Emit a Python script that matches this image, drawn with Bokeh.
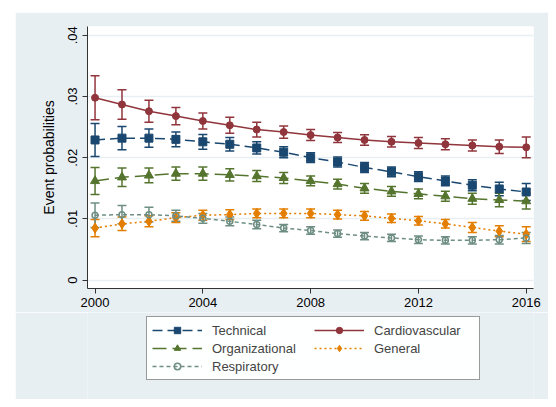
from bokeh.plotting import figure
from bokeh.models import (ColumnDataSource, Whisker, TeeHead, FixedTicker, Legend,
                          LegendItem, Spacer)
from bokeh.layouts import column, row
from bokeh.embed import file_html
from bokeh.resources import INLINE

years = list(range(2000, 2017))

technical = [0.0229, 0.0232, 0.0232, 0.0230, 0.0226, 0.0222, 0.0216, 0.0209, 0.0200,
             0.0193, 0.0184, 0.0177, 0.0169, 0.0162, 0.0155, 0.0149, 0.0144]
technical_ci = [0.0027, 0.0019, 0.0015, 0.0012, 0.0012, 0.0011, 0.0010, 0.0009, 0.0008,
                0.0008, 0.0008, 0.0008, 0.0008, 0.0008, 0.0009, 0.0011, 0.0014]

cardio = [0.0298, 0.0287, 0.0276, 0.0268, 0.0260, 0.0253, 0.0246, 0.0242, 0.0237,
          0.0233, 0.0229, 0.0226, 0.0224, 0.0222, 0.0220, 0.0218, 0.0217]
cardio_ci = [0.0036, 0.0024, 0.0018, 0.0014, 0.0013, 0.0013, 0.0012, 0.0010, 0.0009,
             0.0008, 0.00085, 0.00085, 0.0009, 0.0009, 0.0009, 0.0011, 0.0017]

organizational = [0.0162, 0.0168, 0.0171, 0.0174, 0.0174, 0.0172, 0.0170, 0.0167, 0.0162,
                  0.0157, 0.0150, 0.0145, 0.0141, 0.0137, 0.0133, 0.0131, 0.0129]
organizational_ci = [0.0022, 0.0015, 0.0012, 0.0011, 0.0011, 0.0010, 0.0009, 0.0009, 0.0008,
                     0.0008, 0.0008, 0.0008, 0.0008, 0.0008, 0.0009, 0.0011, 0.0013]

general = [0.0085, 0.0092, 0.0096, 0.0102, 0.0106, 0.0107, 0.0109, 0.0109, 0.0109,
           0.0107, 0.0105, 0.0101, 0.0097, 0.0092, 0.0086, 0.0080, 0.0075]
general_ci = [0.0014, 0.0011, 0.0009, 0.0008, 0.0008, 0.0008, 0.0007, 0.0007, 0.0007,
              0.0007, 0.0007, 0.0007, 0.0007, 0.0007, 0.0008, 0.0009, 0.0012]

respiratory = [0.0106, 0.0107, 0.0107, 0.0105, 0.0101, 0.0096, 0.0091, 0.0085, 0.0081,
               0.0076, 0.0072, 0.0069, 0.0066, 0.0065, 0.0065, 0.0066, 0.0069]
respiratory_ci = [0.0020, 0.0015, 0.0012, 0.0009, 0.0008, 0.0007, 0.0007, 0.0006, 0.0006,
                  0.0006, 0.0006, 0.0006, 0.0006, 0.0006, 0.0006, 0.0007, 0.0009]

x_ticks = [2000, 2004, 2008, 2012, 2016]
y_ticks = [0, 0.01, 0.02, 0.03, 0.04]
y_tick_labels = ["0", ".01", ".02", ".03", ".04"]

FONT = "Liberation Sans"
BG = "#E8EFF3"

p = figure(width=533, height=300, output_backend="svg", toolbar_location=None,
           x_range=(1999.72, 2016.27), y_range=(-0.00137, 0.04144),
           min_border_left=72, min_border_right=15, min_border_top=14, min_border_bottom=24)
p.border_fill_color = BG
p.background_fill_color = "white"
p.outline_line_color = None

p.xaxis.ticker = FixedTicker(ticks=x_ticks)
p.yaxis.ticker = FixedTicker(ticks=y_ticks)
p.yaxis.major_label_overrides = {t: l for t, l in zip(y_ticks, y_tick_labels)}
p.yaxis.major_label_orientation = "vertical"
p.yaxis.axis_label = "Event probabilities"
for ax in (p.xaxis[0], p.yaxis[0]):
    ax.axis_line_color = "#333333"
    ax.major_tick_line_color = "#333333"
    ax.axis_line_width = 1
    ax.major_tick_out = 5
    ax.major_tick_in = 0
    ax.minor_tick_line_color = None
    ax.major_label_text_font = FONT
    ax.major_label_text_font_size = "13px"
    ax.major_label_text_color = "black"
    ax.axis_label_text_font = FONT
    ax.axis_label_text_font_size = "14px"
    ax.axis_label_text_font_style = "normal"
    ax.axis_label_text_color = "black"
p.yaxis.major_label_standoff = 5
p.yaxis.axis_label_standoff = 9
p.xaxis.major_label_standoff = 4

p.xgrid.grid_line_color = None
p.ygrid.grid_line_color = BG
p.ygrid.grid_line_width = 1.5

# legend strip below the plot
q = figure(width=533, height=87, output_backend="svg", toolbar_location=None,
           x_range=(0, 1), y_range=(0, 1), x_axis_type=None, y_axis_type=None,
           min_border=0)
q.border_fill_color = BG
q.background_fill_color = BG
q.outline_line_color = None
q.grid.visible = False

series = [
    ("Technical", technical, technical_ci, "#1A476F", "10 5", "square", 8, True),
    ("Cardiovascular", cardio, cardio_ci, "#90353B", "solid", "circle", 7, True),
    ("Organizational", organizational, organizational_ci, "#55752F", "14 6", "triangle", 9, True),
    ("General", general, general_ci, "#E37E00", "2 3", "diamond", 10, True),
    ("Respiratory", respiratory, respiratory_ci, "#6E8E84", "4 3", "circle", 6, False),
]

items = {}
for name, vals, ci, color, dash, marker, size, filled in series:
    src = ColumnDataSource(dict(x=years, y=vals,
                                lo=[v - c for v, c in zip(vals, ci)],
                                hi=[v + c for v, c in zip(vals, ci)]))
    w = Whisker(source=src, base="x", upper="hi", lower="lo", line_color=color,
                line_width=1.5,
                upper_head=TeeHead(size=9, line_color=color, line_width=1.5),
                lower_head=TeeHead(size=9, line_color=color, line_width=1.5))
    p.add_layout(w)
    line_kw = dict(line_color=color, line_width=1.5, line_dash=dash)
    sc_kw = dict(marker=marker, line_color=color,
                 fill_color=color if filled else None,
                 line_width=1.5 if not filled else 1)
    p.line("x", "y", source=src, **line_kw)
    p.scatter("x", "y", source=src, size=size, **sc_kw)
    # same series in the legend strip (outside its ranges, only used by the legend)
    ln = q.line("x", "y", source=src, **line_kw)
    sc = q.scatter("x", "y", source=src, size=size * 0.75, **sc_kw)
    items[name] = LegendItem(label=name, renderers=[ln, sc])

# column-first fill: col 1 = Technical, Organizational, Respiratory; col 2 = Cardiovascular, General
order = ["Technical", "Organizational", "Respiratory", "Cardiovascular", "General"]
legend = Legend(items=[items[n] for n in order], ncols=2, location=(59, 19),
                orientation="vertical",
                label_text_font=FONT, label_text_font_size="13px",
                glyph_width=50, glyph_height=16, label_standoff=10, spacing=2,
                label_width=100, label_height=16,
                padding=5, margin=0, border_line_color="#333333", border_line_width=1,
                background_fill_color="white")
q.add_layout(legend)

layout = column(Spacer(width=548, height=12),
                row(Spacer(width=15, height=387), column(p, q, spacing=0), spacing=0),
                spacing=0)
open("out.html", "w").write(file_html(layout, INLINE))
